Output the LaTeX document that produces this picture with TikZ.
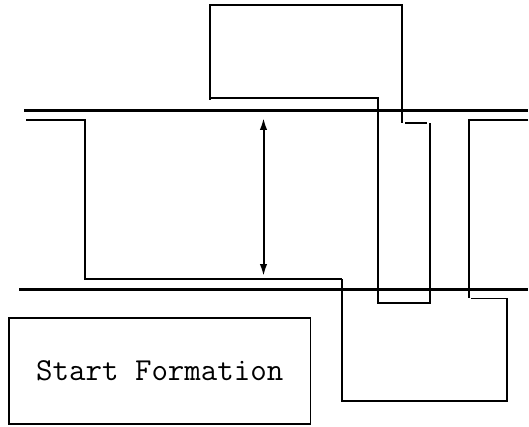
\documentclass[tikz,border=0pt]{standalone}
\usetikzlibrary{arrows.meta}
\begin{document}
\begin{tikzpicture}[x=1pt,y=-1pt,
  thin line/.style={line width=1.8pt,line cap=butt,line join=miter},
  thick line/.style={line width=2.8pt},
  startbox/.style={draw,line width=1.8pt,rectangle,inner sep=0pt,
    minimum width=301.5pt,minimum height=105.7pt,
    font=\ttfamily\fontsize{32}{38}\selectfont},
  dblarrow/.style={line width=2pt,{Latex[length=12pt,width=7.5pt]}-{Latex[length=12pt,width=7.5pt]}}]
\useasboundingbox (0,0) rectangle (529,427);
% named points
\coordinate (tbA) at (210,100);
\coordinate (tbB) at (210,5);
\coordinate (tbC) at (402,5);
\coordinate (tbD) at (402,123);
\coordinate (lpA) at (210,98);
\coordinate (lpB) at (378,98);
\coordinate (lpC) at (378,303);
\coordinate (lpD) at (430,303);
\coordinate (lpE) at (430,123.5);
\coordinate (shA) at (405,123);
\coordinate (shB) at (427,123);
\coordinate (topL) at (24,110.3);
\coordinate (topR) at (528.3,110.3);
\coordinate (botL) at (19,289.3);
\coordinate (botR) at (528.3,289.3);
\coordinate (leA) at (26,120);
\coordinate (leB) at (85,120);
\coordinate (leC) at (85,279);
\coordinate (leD) at (342,279);
\coordinate (loA) at (342,279);
\coordinate (loB) at (342,401);
\coordinate (loC) at (507,401);
\coordinate (loD) at (507,298.5);
\coordinate (loE) at (471,298.5);
\coordinate (riA) at (528.3,120);
\coordinate (riB) at (469,120);
\coordinate (riC) at (469,298);
\coordinate (arT) at (263.5,118);
\coordinate (arB) at (263.5,276);
% thick horizontal lines
\draw[thick line] (topL) -- (topR);
\draw[thick line] (botL) -- (botR);
% upper box
\draw[thin line] (tbA) -- (tbB) -- (tbC) -- (tbD);
\draw[thin line] (lpA) -- (lpB) -- (lpC) -- (lpD) -- (lpE);
\draw[thin line] (shA) -- (shB);
% left path
\draw[thin line] (leA) -- (leB) -- (leC) -- (leD);
\draw[thin line] (loA) -- (loB) -- (loC) -- (loD) -- (loE);
% right path
\draw[thin line] (riA) -- (riB) -- (riC);
% arrow
\draw[dblarrow] (arT) -- (arB);
% start box
\node[startbox] (start) at (159.75,370.85) {Start Formation};
\end{tikzpicture}
\end{document}
